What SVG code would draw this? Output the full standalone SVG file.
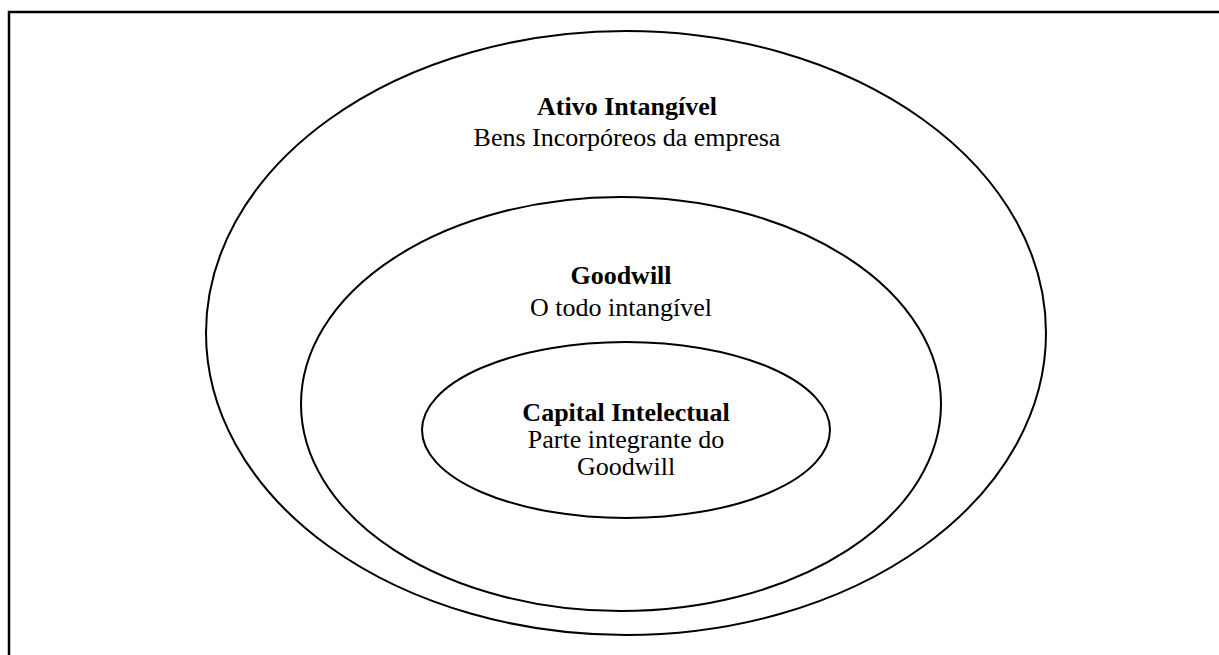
<svg xmlns="http://www.w3.org/2000/svg" width="1219" height="655" viewBox="0 0 1219 655">
<style>
.frame{fill:none;stroke:#000;stroke-width:2.5}
.ell{fill:none;stroke:#000;stroke-width:2}
.t{font-family:"Liberation Serif","Times New Roman",serif;font-size:26px;fill:#000;text-anchor:middle}
.b{font-weight:bold}
</style>
<rect width="1219" height="655" fill="#fff"/>
<path class="frame" d="M9,655 V12 H1219"/>
<g id="ativo">
<ellipse class="ell" cx="626" cy="333" rx="420" ry="302"/>
<line x1="852" y1="75" x2="856" y2="77" stroke="#fff" stroke-width="3"/>
<text class="t b" x="627" y="115">Ativo Intangível</text>
<text class="t" x="627" y="146">Bens Incorpóreos da empresa</text>
</g>
<g id="goodwill">
<ellipse class="ell" cx="621" cy="404" rx="320" ry="207"/>
<text class="t b" x="621" y="284">Goodwill</text>
<text class="t" x="621" y="316">O todo intangível</text>
</g>
<g id="capital">
<ellipse class="ell" cx="626" cy="430" rx="204" ry="88"/>
<text class="t b" x="626" y="421">Capital Intelectual</text>
<text class="t" x="626" y="448">Parte integrante do</text>
<text class="t" x="626" y="475">Goodwill</text>
</g>
<g id="connectors"/>
</svg>
